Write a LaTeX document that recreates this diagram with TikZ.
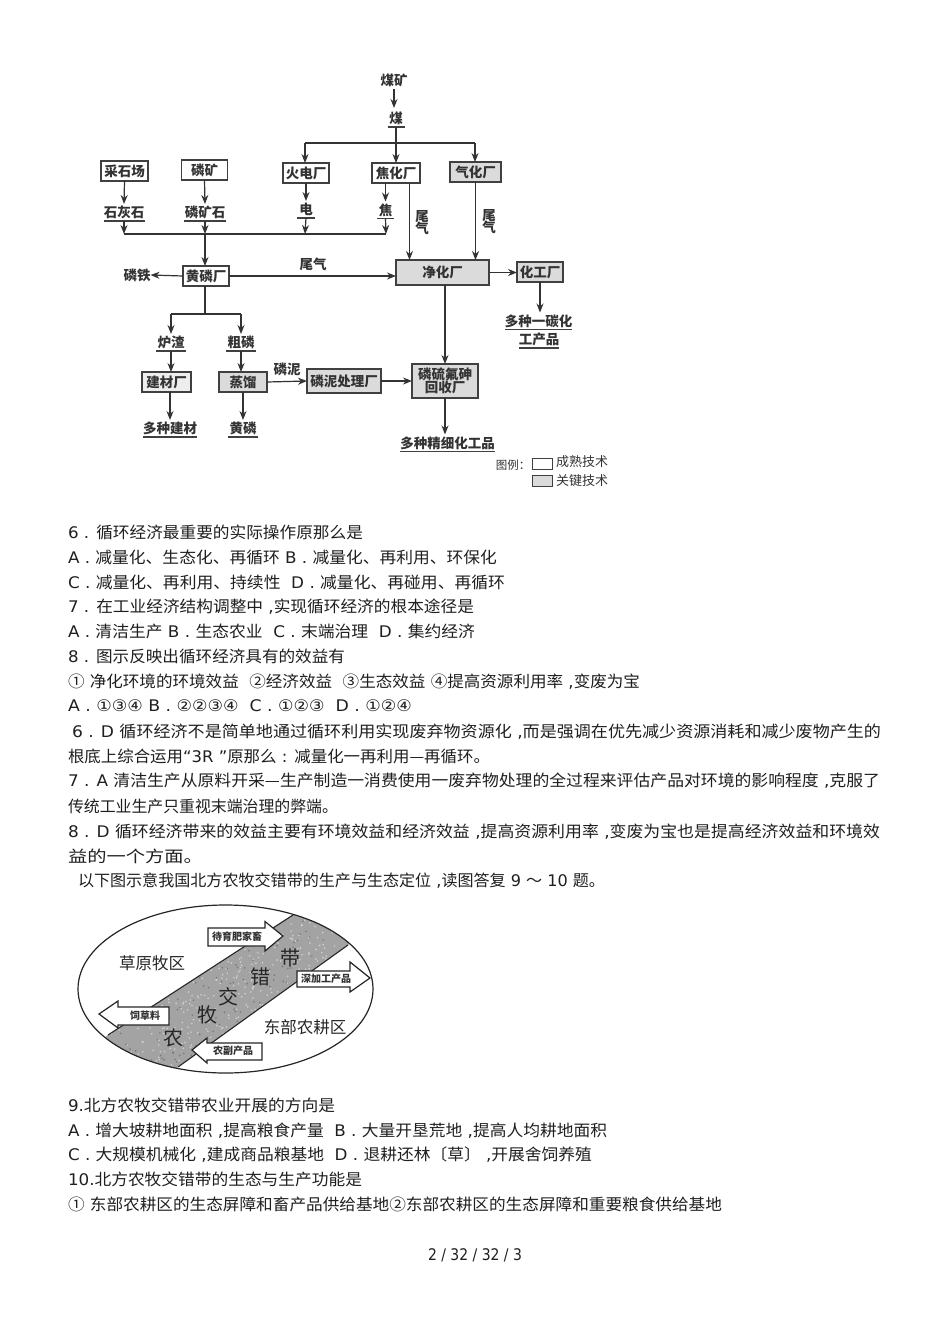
\documentclass[tikz,border=0pt]{standalone}
\usepackage{fontspec}
\usepackage{graphicx}
\usetikzlibrary{arrows.meta,calc}
\setmainfont{Noto Sans CJK SC}
\newfontfamily\latf{DejaVu Sans}
\newcommand\La[1]{{\latf #1}}
\newsavebox\tbx
\newcommand\fitw[2]{\sbox\tbx{#2}\pgfmathsetmacro\sxv{#1/\wd\tbx}\scalebox{\sxv}[1]{\usebox\tbx}}
\newcommand\tl[5]{\node[txt] (#1) at (#2,#3) {\fitw{#4}{#5}};}
\tikzset{
 x=1pt,y=-1pt,
 txt/.style={anchor=base west,inner sep=0pt,outer sep=0pt,font=\fontsize{16}{18}\selectfont,text=black!88},
 dt/.style={inner sep=0pt,outer sep=0pt,font=\fontsize{13.5}{15}\selectfont\bfseries,text=black!80,align=center},
 plant/.style={dt,draw=black!75,line width=1.3pt,fill=white,minimum width=#1,minimum height=20pt},
 key/.style={dt,draw=black!75,line width=1.3pt,fill=black!14,minimum width=#1,minimum height=20pt},
 prod/.style={dt,minimum width=#1,minimum height=17pt,append after command={(\tikzlastnode.south west) edge[draw=black!75,line width=1.3pt] (\tikzlastnode.south east)}},
 arr/.style={draw=black!80,line width=1.2pt,-{Stealth[length=9pt,width=7pt]}},
 lin/.style={draw=black!80,line width=1.2pt},
 bandt/.style={inner sep=0pt,font=\fontsize{20}{22}\selectfont,text=black!85},
 zone/.style={inner sep=0pt,font=\fontsize{16.5}{18}\selectfont,text=black!85},
 blk/.style={draw=black!85,line width=1.2pt,fill=white,line join=miter},
 blkt/.style={inner sep=0pt,font=\fontsize{10}{12}\selectfont\bfseries,text=black!80},
}
\begin{document}
\begin{tikzpicture}
\useasboundingbox (0,0) rectangle (950,1344);
\fill[white] (0,0) rectangle (950,1344);

% --- flow diagram ---
\node[dt] (meikuang) at (394,80) {煤矿};
\node[prod=17pt] (mei) at (396,118.5) {煤};
\node[plant=47pt] (caishi) at (124.5,171) {采石场};
\node[plant=46pt] (linkuang) at (204.5,170) {磷矿};
\node[plant=46pt] (huodian) at (306,173) {火电厂};
\node[plant=48pt] (jiaohua) at (396,173) {焦化厂};
\node[key=51pt] (qihua) at (475.5,172) {气化厂};
\node[prod=41pt] (shihui) at (124,212.5) {石灰石};
\node[prod=42pt] (linshi) at (205,212.5) {磷矿石};
\node[prod=18pt] (dian) at (306,209.5) {电};
\node[prod=17pt] (jiao) at (385.5,210) {焦};
\node[plant=46pt] (huanglin) at (206,276) {黄磷厂};
\node[dt] (tiefe) at (137,275) {磷铁};
\node[key=93pt,minimum height=25pt] (jinghua) at (442.5,272.5) {净化厂};
\node[key=46pt] (huagong) at (540,272) {化工厂};
\node[dt] (wei1) at (313,264) {尾气};
\node[dt] (wei2) at (422,223) {尾\\[-3pt]气};
\node[dt] (wei3) at (489,222) {尾\\[-3pt]气};
\node[prod=67pt] (tan) at (538.5,321) {多种一碳化};
\node[prod=40pt] (gongchan) at (539,339.5) {工产品};
\node[prod=30pt] (luzha) at (171,342.5) {炉渣};
\node[prod=30pt] (culin) at (241,342.5) {粗磷};
\node[plant=49pt,fill=black!7] (jiancai) at (166.5,382) {建材厂};
\node[key=48pt] (zhengliu) at (243,382) {蒸馏};
\node[key=74pt,minimum height=24pt] (linni) at (344,381) {磷泥处理厂};
\node[dt] (linnit) at (287,369) {磷泥};
\node[key=66pt,minimum height=34pt] (huishou) at (445,381) {磷硫氟砷\\[-2pt]回收厂};
\node[prod=54pt] (jiancaip) at (170,428.5) {多种建材};
\node[prod=30pt] (huangp) at (243,428.5) {黄磷};
\node[prod=91pt] (jingxi) at (447.5,443) {多种精细化工品};

\coordinate (bus1) at (124,234);
\coordinate (bus2) at (205,234);
\coordinate (bus3) at (305,234);
\coordinate (bus4) at (386,234);
\coordinate (coalj) at (396,143);
\coordinate (coalL) at (305,143);
\coordinate (coalR) at (475,143);
\coordinate (hj) at (205,314);
\coordinate (hL) at (171,314);
\coordinate (hR) at (241,314);

\draw[arr] (meikuang.south) ++(0,3) -- (394,108);
\draw[lin] (mei.south) -- (coalj);
\draw[arr] (coalj) -- (jiaohua.north);
\draw[lin] (coalL) -- (coalR);
\draw[arr] (coalL) -- (coalL |- huodian.north);
\draw[arr] (coalR) -- (coalR |- qihua.north);
\draw[arr] (caishi.south) -- (shihui.north);
\draw[arr] (linkuang.south) -- (linshi.north);
\draw[arr] (huodian.south) -- (dian.north);
\draw[arr] (jiaohua.south -| jiao) -- (jiao.north);
\draw[lin] (bus1) -- (bus4);
\draw[arr] (shihui.south) -- (bus1);
\draw[arr] (linshi.south) -- (bus2);
\draw[arr] (dian.south) -- (bus3);
\draw[arr] (jiao.south) -- (bus4);
\draw[arr] (bus2) -- (bus2 |- huanglin.north);
\draw[arr] (huanglin.west) -- (tiefe.east);
\draw[arr] (huanglin.east) -- (huanglin.east -| jinghua.west);
\draw[arr] ([xshift=13.5pt]jiaohua.south) -- ([xshift=13.5pt]jiaohua.south |- jinghua.north);
\draw[arr] (qihua.south) -- (qihua.south |- jinghua.north);
\draw[arr] (jinghua.east) -- (jinghua.east -| huagong.west);
\draw[arr] (huagong.south) -- (huagong.south |- tan.north);
\draw[arr] (jinghua.south -| huishou) -- (huishou.north);
\draw[lin] (hj |- huanglin.south) -- (hj);
\draw[lin] (hL) -- (hR);
\draw[arr] (hL) -- (luzha.north);
\draw[arr] (hR) -- (culin.north);
\draw[arr] (luzha.south) -- (luzha.south |- jiancai.north);
\draw[arr] (culin.south) -- (culin.south |- zhengliu.north);
\draw[arr] (jiancai.south -| jiancaip) -- (jiancaip.north);
\draw[arr] (zhengliu.south) -- (huangp.north);
\draw[arr] (zhengliu.east) -- (linni.west);
\draw[arr] (linni.east) -- (huishou.west);
\draw[arr] (huishou.south) -- (huishou.south |- jingxi.north);

% legend
\node[dt,font=\fontsize{11.5}{13}\selectfont] (tuli) at (513,465) {图例：};
\node[plant=20pt,minimum height=11pt,line width=.8pt] (lg1) at (542,463.5) {};
\node[key=20pt,minimum height=11pt,line width=.8pt] (lg2) at (542,481) {};
\node[dt,font=\fontsize{13}{15}\selectfont] (lgt1) at (582,462) {成熟技术};
\node[dt,font=\fontsize{13}{15}\selectfont] (lgt2) at (582,481) {关键技术};

% --- text block ---
\tl{l1}{68}{538}{295}{\La{6 . }循环经济最重要的实际操作原那么是}
\tl{l2}{68}{563}{429}{\La{A . }减量化、生态化、再循环\La{ B . }减量化、再利用、环保化}
\tl{l3}{68}{588}{437}{\La{C . }减量化、再利用、持续性\La{~~D . }减量化、再碰用、再循环}
\tl{l4}{68}{612}{406}{\La{7 . }在工业经济结构调整中\La{ ,}实现循环经济的根本途径是}
\tl{l5}{68}{637}{407}{\La{A . }清洁生产\La{ B . }生态农业\La{~~C . }末端治理\La{~~D . }集约经济}
\tl{l6}{68}{662}{277}{\La{8 . }图示反映出循环经济具有的效益有}
\tl{l7}{68}{687}{572}{①\La{ }净化环境的环境效益\La{~~}②经济效益\La{~~}③生态效益\La{ }④提高资源利用率\La{ ,}变废为宝}
\tl{l8}{68}{711}{344}{\La{A . ①③④ B . ②②③④~~C . ①②③~~D . ①②④}}
\tl{l9}{72}{737}{809}{\La{6 . D }循环经济不是简单地通过循环利用实现废弃物资源化\La{ ,}而是强调在优先减少资源消耗和减少废物产生的}
\tl{l10}{68}{762}{422}{根底上综合运用\La{“3R ”}原那么\La{ : }减量化一再利用—再循环。}
\tl{l11}{68}{786}{812}{\La{7 . A }清洁生产从原料开采—生产制造一消费使用一废弃物处理的全过程来评估产品对环境的影响程度\La{ ,}克服了}
\tl{l12}{68}{812}{270}{传统工业生产只重视末端治理的弊端。}
\tl{l13}{68}{837}{812}{\La{8 . D }循环经济带来的效益主要有环境效益和经济效益\La{ ,}提高资源利用率\La{ ,}变废为宝也是提高经济效益和环境效}
\tl{l14}{68}{862}{135}{益的一个方面。}
\tl{l15}{78}{886}{527}{以下图示意我国北方农牧交错带的生产与生态定位\La{ ,}读图答复\La{ 9 }～\La{ 10 }题。}
\tl{l16}{68}{1111}{267}{\La{9.}北方农牧交错带农业开展的方向是}
\tl{l17}{68}{1136}{539}{\La{A . }增大坡耕地面积\La{ ,}提高粮食产量\La{~~B . }大量开垦荒地\La{ ,}提高人均耕地面积}
\tl{l18}{68}{1160}{524}{\La{C . }大规模机械化\La{ ,}建成商品粮基地\La{~~D . }退耕还林〔草〕\La{ ,}开展舍饲养殖}
\tl{l19}{68}{1185}{294}{\La{10.}北方农牧交错带的生态与生产功能是}
\tl{l20}{68}{1210}{654}{①\La{ }东部农耕区的生态屏障和畜产品供给基地②东部农耕区的生态屏障和重要粮食供给基地}
\tl{l21}{428}{1260}{94}{\La{2 / 32 / 32 / 3}}

% --- ellipse figure ---
\begin{scope}
 \clip (225.5,989) ellipse [x radius=147.5pt,y radius=84pt];
 \fill[black!36] (78,1054.5) -- (323,895.5) -- (378,923.5) -- (148,1088.5) -- cycle;
 \clip (78,1054.5) -- (323,895.5) -- (378,923.5) -- (148,1088.5) -- cycle;
 \pgfmathsetseed{11}
 \foreach \i in {1,...,1100}{
  \pgfmathsetmacro\px{100+rnd*270}
  \pgfmathsetmacro\py{905+rnd*170}
  \pgfmathsetmacro\pc{rnd>0.3?0:70}
  \fill[black!\pc!white,opacity=.5] (\px,\py) circle (0.9pt);
 }
\end{scope}
\draw[black!85,line width=1.1pt] (108,1035) -- (293,915);
\draw[black!85,line width=1.1pt] (178,1067) -- (348,945);
\draw[black!85,line width=1.2pt] (225.5,989) ellipse [x radius=147.5pt,y radius=84pt];

\node[zone] (zr) at (152,963) {草原牧区};
\node[zone] (ze) at (305,1027) {东部农耕区};
\node[bandt] (b1) at (173,1038) {农};
\node[bandt] (b2) at (207,1015) {牧};
\node[bandt] (b3) at (228,997) {交};
\node[bandt] (b4) at (260,977) {错};
\node[bandt] (b5) at (290,958) {带};

\draw[blk] (208,928) -- (265,928) -- (265,921.5) -- (283,936) -- (265,951) -- (265,946) -- (208,946) -- cycle;
\node[blkt] (a1) at (237,937) {待育肥家畜};
\draw[blk] (297,971) -- (350,971) -- (350,962) -- (370,978) -- (350,992) -- (350,987) -- (297,987) -- cycle;
\node[blkt] (a2) at (326,979) {深加工产品};
\draw[blk] (99,1014) -- (118,1001) -- (118,1007) -- (169,1007) -- (169,1025) -- (118,1025) -- (118,1028) -- cycle;
\node[blkt] (a3) at (145,1016) {饲草料};
\draw[blk] (192,1050) -- (207,1038) -- (207,1043) -- (262,1043) -- (262,1060) -- (207,1060) -- (207,1063) -- cycle;
\node[blkt] (a4) at (233,1051) {农副产品};
\end{tikzpicture}
\end{document}
